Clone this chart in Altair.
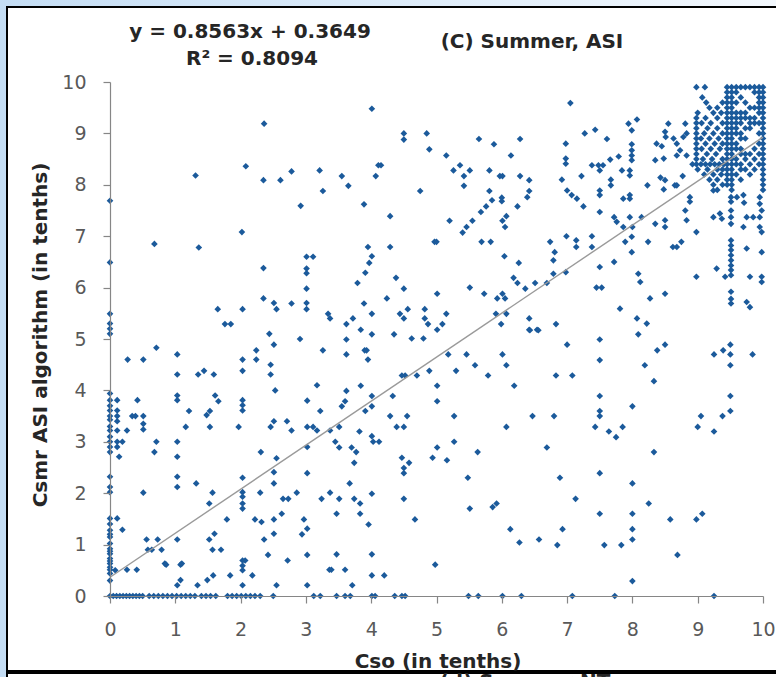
import altair as alt
import pandas as pd

# ---------------- data ----------------
# scattered points, grouped by region of the plot: (x, y)
pts_low_left = [
    (0.71,4.83),(0.27,4.60),(0.51,4.60),(1.03,4.70),(1.03,4.31),(1.35,4.31),(1.44,4.38),(1.59,4.31),
    (2.03,4.60),(2.03,4.38),(2.24,4.78),(2.24,4.60),(2.51,4.89),(2.46,4.50),(2.46,4.31),(2.53,4.00),
    (3.26,4.78),(3.17,4.10),
    (0.11,3.81),(0.42,3.81),(0.11,3.61),(0.11,3.50),(0.34,3.50),(0.39,3.50),(0.51,3.50),(0.11,3.40),
    (0.51,3.35),(0.51,3.24),(0.11,3.22),(0.26,3.22),(0.11,3.00),(0.19,3.00),(0.11,2.90),(0.14,2.71),
    (0.71,3.00),(0.68,2.80),(1.03,3.00),(1.03,2.71),(1.21,3.60),(1.03,3.90),(1.03,3.81),(1.16,3.29),
    (1.48,3.52),(1.53,3.60),(1.53,3.29),(1.61,3.90),(1.66,3.79),(2.03,3.81),(2.03,3.71),(2.03,3.61),
    (1.97,3.29),(2.46,3.29),(2.51,3.40),(2.71,3.40),(2.78,3.22),(3.02,3.29),(3.11,3.29),(3.17,3.22),
    (3.02,2.90),(3.22,3.60),(3.02,3.80),(3.37,3.22),
    (0.51,2.01),(1.03,2.32),(1.03,2.12),(1.32,2.19),(1.57,2.01),(1.52,1.80),(2.03,2.30),(2.03,2.02),
    (2.03,1.93),(2.03,1.80),(2.03,1.70),(2.30,2.01),(2.51,2.41),(2.51,2.19),(2.55,2.68),(2.31,2.80),
    (3.02,2.39),(2.86,2.01),(2.65,1.89),(2.73,1.89),(3.24,1.89),(3.37,2.01),
    (0.11,1.51),(0.19,1.29),(0.26,0.51),(0.41,0.51),(0.56,1.10),(0.73,1.10),(0.58,0.90),(0.64,0.90),
    (0.79,0.90),(0.86,0.61),(1.03,1.10),(1.08,0.61),(1.03,0.21),(1.08,0.31),(1.34,0.21),(1.49,0.31),
    (1.52,1.10),(1.60,1.21),(1.57,0.90),(1.70,0.90),(1.58,0.40),(1.79,1.49),(1.84,0.40),(2.03,0.69),
    (2.07,0.69),(2.03,0.59),(2.03,0.50),(2.03,0.21),(2.18,0.40),(2.22,1.49),(2.32,1.44),(2.36,1.10),
    (2.51,1.49),(2.51,1.21),(2.63,1.60),(2.42,0.80),(2.55,0.21),(2.72,0.69),(2.97,1.49),(3.02,1.31),
    (2.94,1.20),(3.02,0.80),(3.02,0.21),(3.36,0.51),(0.08,0.50),(0.84,0.63),(1.10,0.63),
]
pts_up_left = [
    (2.36,9.19),(2.08,8.36),(1.31,8.18),(2.35,8.09),(2.61,8.09),(2.78,8.26),(3.21,8.28),(3.26,7.88),
    (2.92,7.59),(2.02,7.08),(0.68,6.85),(1.36,6.78),(2.35,6.38),(3.01,6.60),(3.11,6.60),(3.01,6.37),
    (3.01,6.28),(3.01,5.98),(2.35,5.79),(2.51,5.70),(2.55,5.58),(2.78,5.69),(3.01,5.70),(3.01,5.58),
    (1.65,5.58),(2.03,5.58),(1.76,5.29),(1.85,5.29),(2.44,5.10),(2.91,5.00),(3.34,5.49),(3.37,5.40),
]
pts_up_mid = [
    (4.01,9.48),(4.50,9.00),(4.50,8.88),(4.85,9.00),(4.89,8.69),(5.15,8.57),(5.65,8.89),(5.88,8.79),
    (6.28,8.89),(6.14,8.57),(4.11,8.38),(4.15,8.38),(4.07,8.17),(3.55,8.17),(3.65,7.98),(3.89,7.62),
    (4.29,7.39),(4.75,7.88),(5.36,8.38),(5.26,8.28),(5.51,8.28),(5.42,8.17),(5.42,7.98),(5.81,8.28),
    (5.97,8.17),(6.01,8.17),(6.28,8.17),(6.42,8.09),(6.42,7.88),(6.39,7.76),(5.81,7.88),(5.85,7.70),
    (5.76,7.58),(5.68,7.47),(6.00,7.75),(6.00,7.68),(6.24,7.58),(6.07,7.39),(6.01,7.30),(6.05,7.18),
    (5.20,7.30),(5.55,7.30),(5.46,7.18),(5.40,7.07),(4.97,6.89),(5.00,6.89),(5.69,6.89),(5.83,6.89),
    (6.74,6.89),(3.95,6.79),(4.29,6.79),(4.01,6.61),(3.97,6.48),(3.91,6.29),(3.79,6.09),(4.38,6.19),
    (4.50,5.98),(4.24,5.79),(3.89,5.69),(4.01,5.49),(3.72,5.40),(3.62,5.29),(3.84,5.18),(4.01,5.09),
    (4.35,5.09),(4.44,5.49),(4.50,5.40),(4.56,5.58),(4.82,5.58),(4.82,5.40),(4.87,5.29),(5.01,5.88),
    (5.15,5.49),(5.09,5.29),(5.01,5.18),(5.51,6.00),(5.73,5.88),(5.93,5.79),(6.01,5.88),(6.05,5.79),
    (6.04,6.61),(6.26,6.48),(6.18,6.19),(6.24,6.09),(6.36,5.98),(6.51,6.09),(6.69,6.09),(5.91,5.49),
    (6.07,5.49),(5.99,5.29),(6.42,5.40),(6.42,5.18),(6.54,5.18),(4.62,5.01),(4.80,5.01),
]
pts_low_mid = [
    (3.62,4.99),(3.62,4.70),(3.90,4.78),(3.93,4.78),(3.95,4.60),(5.18,4.70),(5.46,4.70),(5.59,4.49),
    (5.30,4.38),(5.79,4.29),(6.01,4.70),(6.07,4.49),(6.19,4.09),(6.43,5.17),(6.56,5.17),(4.47,4.29),
    (4.52,4.29),(4.70,4.29),(4.89,4.38),(5.01,4.09),(5.01,3.79),(3.84,4.09),(3.62,3.99),(4.01,3.89),
    (4.01,3.69),(4.33,3.89),(3.60,3.79),(3.55,3.69),(3.91,3.60),(4.29,3.50),(4.55,3.50),(4.39,3.29),
    (4.50,3.29),(5.27,3.50),(6.47,3.50),(6.07,3.29),(3.51,3.29),(3.82,3.20),(4.01,3.11),(4.03,3.00),
    (4.12,3.00),(3.45,3.00),(3.51,2.89),(3.70,2.89),(3.77,2.80),(3.74,2.59),(4.47,2.69),(4.58,2.59),
    (4.50,2.49),(4.50,2.39),(4.94,2.69),(5.01,2.89),(5.16,2.64),(5.27,3.00),(5.63,2.80),(6.69,2.89),
    (5.48,2.30),(3.67,2.19),(3.51,1.89),(3.74,1.89),(3.83,1.80),(4.01,1.99),(4.50,1.89),(3.47,1.60),
    (3.83,1.60),(3.96,1.39),(4.67,1.49),(5.51,1.70),(5.86,1.73),(5.92,1.80),(6.13,1.30),(6.27,1.04),
    (6.57,1.10),(3.47,0.81),(4.01,0.81),(3.39,0.51),(3.60,0.51),(4.01,0.40),(4.20,0.40),(3.71,0.21),
    (4.98,0.61),
]
pts_low_right = [
    (7.00,4.89),(7.50,4.99),(7.50,4.59),(8.09,5.09),(8.38,4.78),(8.50,4.89),(8.19,4.49),(8.33,4.18),
    (9.25,4.70),(9.39,4.78),(9.50,4.89),(9.50,4.70),(9.50,4.49),(9.84,4.70),(6.83,4.29),(7.08,4.29),
    (7.50,3.89),(7.50,3.60),(7.50,3.50),(7.43,3.29),(7.64,3.20),(7.75,3.09),(7.85,3.29),(8.00,3.69),
    (6.80,3.50),(8.33,2.80),(9.50,3.89),(9.50,3.60),(9.38,3.50),(9.05,3.50),(9.00,3.29),(9.25,3.20),
    (6.89,2.30),(7.50,2.39),(8.00,2.19),(7.13,1.89),(8.25,1.80),(7.50,1.60),(8.00,1.60),(8.00,1.30),
    (8.00,1.10),(6.93,1.30),(6.85,0.99),(7.57,0.99),(7.83,0.99),(8.58,1.49),(8.98,1.49),(9.07,1.60),
    (8.69,0.80),(8.00,0.29),
]
pts_up_right = [
    (7.05,9.59),(7.27,9.00),(7.43,9.07),(7.61,8.89),(6.98,8.80),(6.98,8.51),(6.98,8.41),(6.92,8.10),
    (7.22,8.17),(7.38,8.38),(7.48,8.38),(7.55,8.38),(7.50,8.28),(7.66,8.49),(7.79,8.55),(7.84,8.28),
    (7.67,8.10),(7.67,7.99),(7.94,9.19),(8.07,9.27),(7.99,9.06),(7.99,8.79),(7.99,8.67),(7.99,8.57),
    (7.99,8.48),(7.96,8.28),(7.96,8.18),(8.23,7.99),(7.00,7.89),(7.07,7.80),(7.15,7.73),(7.25,7.58),
    (7.50,7.89),(7.50,7.80),(7.50,7.47),(7.86,7.73),(7.96,7.73),(7.96,7.80),(7.72,7.37),(7.76,7.28),
    (7.86,7.18),(7.96,7.37),(8.00,7.18),(8.14,7.37),(8.37,8.80),(8.45,8.75),(8.35,8.48),(8.48,8.51),
    (8.43,8.14),(8.50,8.09),(8.48,7.91),(8.65,7.99),(8.55,9.19),(8.50,9.03),(8.51,8.93),(8.63,8.90),
    (8.68,8.80),(8.78,8.93),(8.83,9.00),(8.81,9.19),(8.68,8.57),(8.73,8.67),(8.83,8.57),(8.77,8.17),
    (8.68,7.99),(8.88,7.76),(8.88,7.67),(8.35,7.24),(8.50,7.31),(8.50,7.18),(8.81,7.50),(8.83,7.31),
    (8.98,7.08),(8.24,6.89),(8.62,6.79),(8.68,6.79),(8.75,6.89),(8.98,6.21),(9.24,7.89),(9.24,7.37),
    (9.34,7.44),(9.37,7.34),(9.29,6.37),(9.42,6.21),(9.51,7.76),(9.51,7.67),(9.51,7.50),(9.51,7.37),
    (9.51,7.24),(9.60,7.76),(9.70,7.80),(9.71,7.65),(9.75,7.37),(9.85,7.37),(9.95,7.37),(9.95,7.76),
    (9.95,7.63),(9.98,7.50),(9.70,7.18),(9.95,7.18),(9.98,7.08),(9.51,6.92),(9.51,6.82),(9.51,6.73),
    (9.51,6.63),(9.51,6.53),(9.51,6.43),(9.51,6.34),(9.51,6.24),(9.75,6.76),(9.98,6.69),(9.80,6.21),
    (9.98,6.21),(9.98,6.11),(9.51,5.92),(9.51,5.78),(9.51,5.69),(9.75,5.72),(9.80,5.62),(7.81,5.59),
    (8.07,5.40),(8.22,5.30),(8.50,5.88),(8.27,5.79),(7.45,6.00),(7.53,6.00),(7.50,6.40),(7.72,6.50),
    (6.79,6.53),(6.79,6.27),(6.98,6.30),(6.99,7.00),(7.14,6.92),(7.14,6.79),(7.38,7.00),(7.38,6.79),
    (6.81,6.69),(7.89,6.89),(7.99,6.99),(7.99,6.69),(8.09,6.27),(8.12,6.11),(6.83,5.29),
]
# column of points at Cso = 0
col_x0_y = [7.69, 6.49, 5.49, 5.30, 5.20, 5.10, 3.94, 3.81, 3.70, 3.61, 3.50, 3.43, 3.30, 3.22, 3.10,
            3.00, 2.90, 2.80, 2.32, 2.12, 2.02, 1.51, 1.40, 1.28, 1.20, 1.15, 1.02, 0.92, 0.87, 0.82,
            0.73, 0.68, 0.63, 0.56, 0.51, 0.44, 0.30]
# row of points at Csmr = 0
row_y0_x = [0.0, 0.05, 0.1, 0.15, 0.2, 0.25, 0.3, 0.35, 0.4, 0.45, 0.5, 0.6, 0.67, 0.74, 0.81, 0.88,
            0.95, 1.02, 1.09, 1.16, 1.23, 1.30, 1.40, 1.47, 1.54, 1.62, 1.80, 1.87, 1.94, 2.01, 2.08,
            2.15, 2.22, 2.30, 2.50, 3.12, 3.22, 3.47, 3.60, 3.68, 4.01, 4.06, 4.36, 4.47, 4.52, 5.49,
            5.64, 6.01, 6.30, 7.08, 7.73, 9.25]
# dense upper-right block: Csmr value -> Cso values
dense_rows = {
    9.9: [8.98, 9.11, 9.45, 9.52, 9.59, 9.66, 9.73, 9.80, 9.87, 9.94, 10.0],
    9.8: [9.45, 9.52, 9.59, 9.87, 9.94, 10.0],
    9.7: [9.07, 9.45, 9.52, 9.66, 9.94, 10.0],
    9.6: [9.13, 9.38, 9.45, 9.52, 9.59, 9.73, 9.94, 10.0],
    9.5: [9.18, 9.30, 9.45, 9.52, 9.80, 9.87, 9.94, 10.0],
    9.4: [9.00, 9.24, 9.36, 9.45, 9.52, 9.59, 9.66, 9.73, 9.94, 10.0],
    9.3: [8.98, 9.12, 9.30, 9.45, 9.52, 9.59, 9.66, 9.73, 9.80, 9.87, 10.0],
    9.2: [8.98, 9.06, 9.20, 9.38, 9.45, 9.52, 9.59, 9.66, 9.80, 9.87, 9.94, 10.0],
    9.1: [8.98, 9.15, 9.30, 9.45, 9.52, 9.59, 9.73, 9.80, 10.0],
    9.0: [8.98, 9.10, 9.24, 9.38, 9.45, 9.52, 9.59, 9.66, 9.94, 10.0],
    8.9: [8.98, 9.05, 9.18, 9.32, 9.45, 9.52, 9.66, 9.73, 10.0],
    8.8: [8.98, 9.12, 9.26, 9.38, 9.45, 9.52, 9.59, 9.94, 10.0],
    8.7: [8.98, 9.06, 9.20, 9.34, 9.45, 9.52, 9.59, 9.66, 9.87, 10.0],
    8.6: [8.98, 9.14, 9.28, 9.45, 9.52, 9.66, 9.73, 9.80, 9.94, 10.0],
    8.5: [8.98, 9.08, 9.22, 9.38, 9.45, 9.52, 9.59, 9.73, 9.87, 10.0],
    8.4: [8.92, 8.98, 9.05, 9.12, 9.19, 9.26, 9.33, 9.40, 9.45, 9.52, 9.59, 9.66, 9.80, 9.94, 10.0],
    8.3: [9.00, 9.15, 9.30, 9.38, 9.45, 9.52, 9.66, 9.73, 9.87, 10.0],
    8.2: [9.10, 9.24, 9.36, 9.45, 9.52, 9.59, 9.80, 10.0],
    8.1: [9.18, 9.30, 9.45, 9.52, 9.66, 10.0],
    8.0: [9.24, 9.38, 9.45, 9.52, 10.0],
    7.9: [9.30, 9.52, 10.0],
}

slope, intercept = 0.8563, 0.3649
eq_line1 = "y = 0.8563x + 0.3649"
eq_line2 = "R² = 0.8094"
panel_title = "(C) Summer, ASI"
x_title = "Cso (in tenths)"
y_title = "Csmr ASI algorithm  (in tenths)"
next_panel = "(d) Summer NT"
ticks = list(range(0, 11))

# ---------------- build table ----------------
rows = []
for grp in (pts_low_left, pts_up_left, pts_up_mid, pts_low_mid, pts_low_right, pts_up_right):
    rows += [{"x": a, "y": b} for a, b in grp]
rows += [{"x": 0.0, "y": v} for v in col_x0_y]
rows += [{"x": v, "y": 0.0} for v in row_y0_x]
for yv, xs_ in dense_rows.items():
    rows += [{"x": xv, "y": yv} for xv in xs_]
df = pd.DataFrame(rows)

trend = pd.DataFrame({"x": [0, 10], "y": [intercept, slope * 10 + intercept]})

W, H = 653, 514
FONT = "DejaVu Sans"
xs = alt.Scale(domain=[0, 10], nice=False)
ys = alt.Scale(domain=[0, 10], nice=False)

base_one = pd.DataFrame({"k": [0]})

bg = alt.Chart(base_one).mark_rect(
    fill=alt.Gradient(gradient="linear", x1=0, x2=1, y1=0, y2=0,
                      stops=[alt.GradientStop(color="#c4ddf4", offset=0),
                             alt.GradientStop(color="#f3f8fd", offset=1)])
).encode(x=alt.value(-110), x2=alt.value(666), y=alt.value(-82), y2=alt.value(595))

frame = alt.Chart(base_one).mark_rect(fill="white", stroke="black", strokeWidth=2).encode(
    x=alt.value(-103), x2=alt.value(700), y=alt.value(-75), y2=alt.value(589))

points = alt.Chart(df).mark_point(shape="diamond", filled=True, size=44, color="#1b5a9b", opacity=1).encode(
    x=alt.X("x:Q", scale=xs, axis=alt.Axis(values=ticks, title=None, grid=False, tickSize=7,
                                           labelPadding=17, format="d", zindex=2, labelFlush=False)),
    y=alt.Y("y:Q", scale=ys, axis=alt.Axis(values=ticks, title=None, grid=False, tickSize=7,
                                           labelPadding=17, format="d", zindex=2, labelFlush=False)),
)

line = alt.Chart(trend).mark_line(color="#9a9a9a", strokeWidth=1.4).encode(
    x=alt.X("x:Q", scale=xs), y=alt.Y("y:Q", scale=ys))

def txt(s, x, y, size=20, angle=0, baseline="alphabetic", color="#262626"):
    return alt.Chart(pd.DataFrame({"t": [s]})).mark_text(
        font=FONT, fontSize=size, fontWeight="bold", color=color, align="center",
        baseline=baseline, angle=angle
    ).encode(text="t:N", x=alt.value(x), y=alt.value(y))

t_eq1 = txt(eq_line1, 140, -44)
t_eq2 = txt(eq_line2, 142, -17)
t_panel = txt(panel_title, 422, -34)
t_x = txt(x_title, 328, 586)
t_y = txt(y_title, -63, 253, angle=270)

bottom_line = alt.Chart(base_one).mark_rect(fill="white", stroke="black", strokeWidth=2).encode(
    x=alt.value(-103), x2=alt.value(700), y=alt.value(591), y2=alt.value(700))
t_next = txt(next_panel, 415, 606)

chart = alt.layer(bg, frame, points, line, t_eq1, t_eq2, t_panel, t_x, t_y, bottom_line, t_next).properties(
    width=W, height=H,
    autosize=alt.AutoSizeParams(type="none"),
    padding={"left": 110, "top": 82, "right": 13, "bottom": 81},
    background="#d6e8f7",
).configure_view(strokeWidth=0).configure_axis(
    domainColor="#868686", tickColor="#868686", labelColor="#595959",
    labelFont=FONT, labelFontSize=19, domainWidth=1.2, tickWidth=1.2,
)

chart.save("out.html", embed_options={"renderer": "svg", "actions": False})
